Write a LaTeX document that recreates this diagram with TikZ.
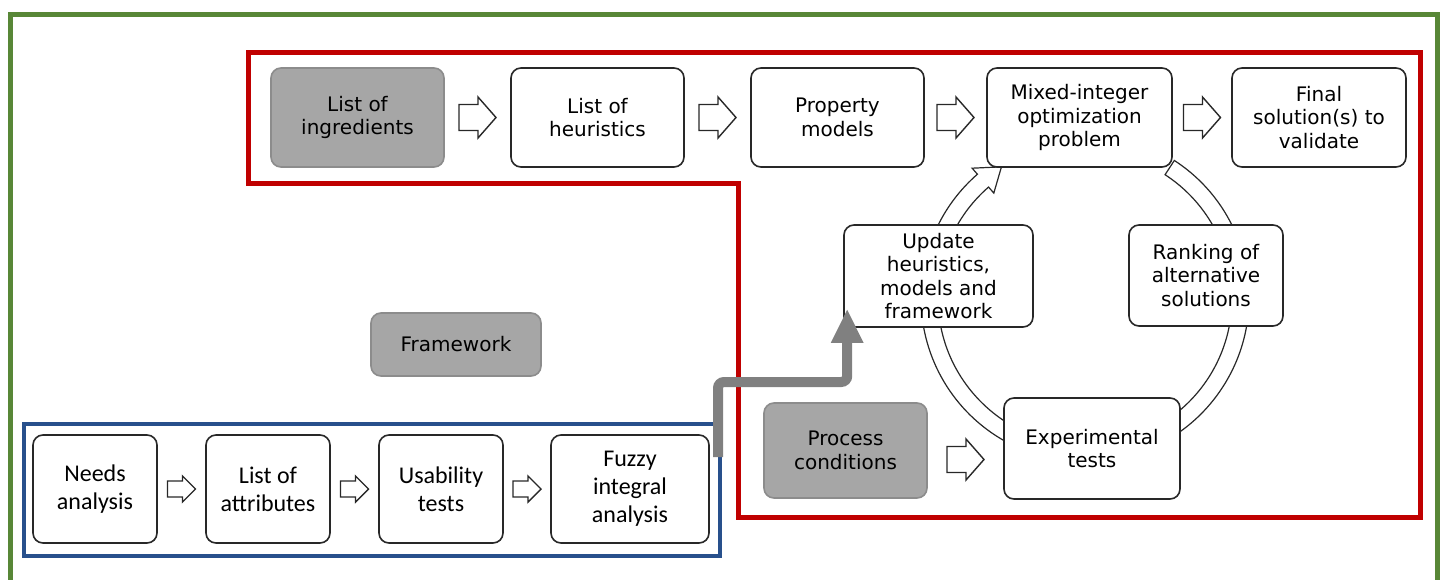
\documentclass[tikz,border=0pt]{standalone}
\usepackage{fontspec}
\setmainfont{DejaVu Sans}
\newfontfamily\calfont{Carlito}
\usetikzlibrary{calc,arrows.meta}
\definecolor{frgreen}{RGB}{88,135,55}
\definecolor{frred}{RGB}{192,0,0}
\definecolor{frblue}{RGB}{40,80,140}
\definecolor{boxline}{RGB}{40,40,40}
\definecolor{grayfill}{RGB}{166,166,166}
\definecolor{graybd}{RGB}{140,140,140}
\definecolor{arrgray}{RGB}{128,128,128}
\begin{document}
\begin{tikzpicture}[x=0.5pt,y=-0.5pt,
  box/.style={draw=boxline,line width=0.8pt,rounded corners=5pt,fill=white,align=center,inner sep=0pt,
    font=\fontsize{10}{11.75}\selectfont},
  graybox/.style={box,draw=graybd,fill=grayfill},
  lowbox/.style={box,font=\calfont\fontsize{12}{14}\selectfont},
  hollowline/.style={draw=boxline,line width=0.7pt,fill=white,line join=miter},
  ringband/.style={draw=boxline,line width=0.6pt,fill=white,line join=miter},
  grayarr/.style={draw=arrgray,line width=5pt,rounded corners=3pt,
    -{Triangle[length=17pt,width=15pt]}},
  pics/bigarrow/.style={code={\draw[hollowline] (-18.5,-13) -- (0.5,-13) -- (0.5,-20.5) -- (18.5,0) -- (0.5,20.5) -- (0.5,13) -- (-18.5,13) -- cycle;}},
  pics/smallarrow/.style={code={\draw[hollowline] (-14,-8) -- (1,-8) -- (1,-13) -- (14,0) -- (1,13) -- (1,8) -- (-14,8) -- cycle;}}
]
\useasboundingbox (0,0) rectangle (1447,579);
\fill[white] (0,0) rectangle (1447,579);
% frames
\draw[frgreen,line width=2.5pt] (10,14) rectangle (1437,640);
\draw[frred,line width=2.5pt,line join=miter] (248,52) -- (1420,52) -- (1420,517) -- (738,517) -- (738,183) -- (248,183) -- cycle;
\draw[frblue,line width=2pt] (24,424) rectangle (720,556);
% ring
\coordinate (rc) at (1085,298);
\draw[ringband] ($(rc)+(-57:164)$) arc[start angle=-57,end angle=229,radius=164]
  -- ($(rc)+(229:172)$) -- ($(rc)+(237.5:155.5)$) -- ($(rc)+(229:139)$) -- ($(rc)+(229:147)$)
  arc[start angle=229,end angle=-57,radius=147] -- cycle;
% top row
\node[graybox,minimum width=86.5pt,minimum height=49.5pt] (ing) at (357.5,117.5) {List of\\ingredients};
\node[box,minimum width=86.5pt,minimum height=49.5pt] (heur) at (597.5,117.5) {List of\\heuristics};
\node[box,minimum width=86.5pt,minimum height=49.5pt] (prop) at (837.5,117.5) {Property\\models};
\node[box,minimum width=92.5pt,minimum height=49.5pt] (mix) at (1079.5,117.5) {Mixed-integer\\optimization\\problem};
\node[box,minimum width=87pt,minimum height=49.5pt] (fin) at (1319,117.5) {Final\\solution(s) to\\validate};
% cycle boxes
\node[box,minimum width=94.5pt,minimum height=51pt] (upd) at (938.5,276) {Update\\heuristics,\\models and\\framework};
\node[box,minimum width=77pt,minimum height=50.5pt] (rank) at (1206,275.5) {Ranking of\\alternative\\solutions};
\node[box,minimum width=88pt,minimum height=50.5pt] (exp) at (1092,448.5) {Experimental\\tests};
\node[graybox,minimum width=81.5pt,minimum height=47.5pt] (proc) at (845.5,450.5) {Process\\conditions};
\node[graybox,minimum width=85pt,minimum height=31.5pt] (frm) at (456,344.5) {Framework};
% bottom row
\node[lowbox,minimum width=62pt,minimum height=54pt] (need) at (95,489) {Needs\\analysis};
\node[lowbox,minimum width=62pt,minimum height=54pt] (attr) at (268,489) {List of\\attributes};
\node[lowbox,minimum width=62pt,minimum height=54pt] (usab) at (441,489) {Usability\\tests};
\node[lowbox,minimum width=79pt,minimum height=54pt] (fuz) at (630,489) {Fuzzy\\integral\\analysis};
% hollow arrows
\pic at ($(ing.east)!0.5!(heur.west)$) {bigarrow};
\pic at ($(heur.east)!0.5!(prop.west)$) {bigarrow};
\pic at ($(prop.east)!0.5!(mix.west)$) {bigarrow};
\pic at ($(mix.east)!0.5!(fin.west)$) {bigarrow};
\pic at ($($(proc.east)!0.5!(exp.west)$)+(0,10)$) {bigarrow};
\pic at ($(need.east)!0.5!(attr.west)$) {smallarrow};
\pic at ($(attr.east)!0.5!(usab.west)$) {smallarrow};
\pic at ($(usab.east)!0.5!(fuz.west)$) {smallarrow};
% gray arrow
\coordinate (gs) at (718,457);
\coordinate (gend) at ($(upd.south west)+(4,-19)$);
\draw[grayarr] (gs) -- (718,382) -| (gend);
\end{tikzpicture}
\end{document}
